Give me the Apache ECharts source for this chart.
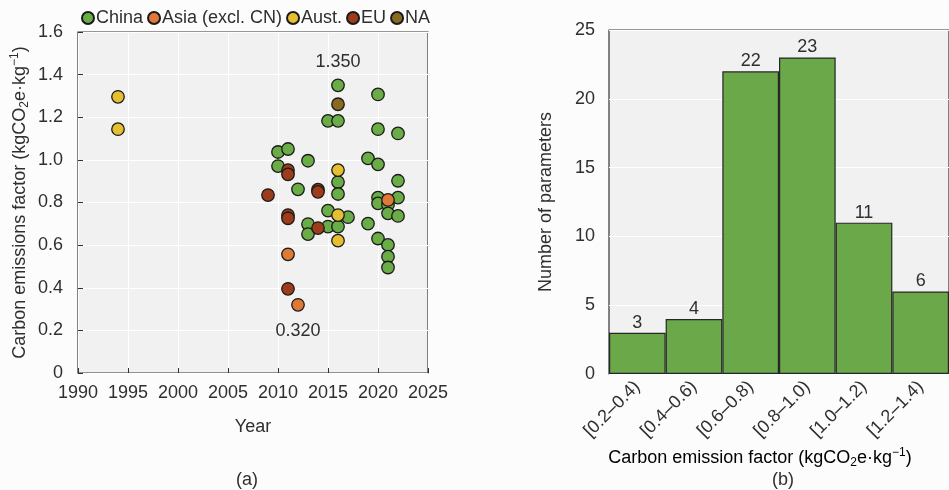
<!DOCTYPE html>
<html>
<head>
<meta charset="utf-8">
<script src="https://cdn.jsdelivr.net/npm/echarts@6/dist/echarts.min.js"></script>
<style>
  html, body { margin: 0; padding: 0; background: #fcfcfc; }
  #chart { width: 949px; height: 490px; }
</style>
</head>
<body>
<div id="chart"></div>
<script>
// (a) Emission factors by publication year and region: [year, kgCO2e/kg]
const chinaPts = [
  [2010, 1.037], [2010, 0.971], [2011, 1.051], [2012, 0.862],
  [2013, 0.996], [2013, 0.699], [2013, 0.652],
  [2015, 1.183], [2015, 0.762], [2015, 0.687],
  [2016, 1.350], [2016, 1.183], [2016, 0.896], [2016, 0.840], [2016, 0.687],
  [2017, 0.731], [2019, 1.007], [2019, 0.701],
  [2020, 1.307], [2020, 1.144], [2020, 0.979], [2020, 0.823], [2020, 0.796], [2020, 0.631],
  [2021, 0.790], [2021, 0.749], [2021, 0.601], [2021, 0.546], [2021, 0.495],
  [2022, 1.124], [2022, 0.902], [2022, 0.823], [2022, 0.737]
];
const asiaPts = [[2011, 0.557], [2012, 0.320], [2021, 0.812]];
const austPts = [[1994, 1.296], [1994, 1.144], [2016, 0.952], [2016, 0.741], [2016, 0.621]];
const euPts = [
  [2009, 0.835], [2011, 0.952], [2011, 0.932], [2011, 0.741], [2011, 0.726], [2011, 0.395],
  [2014, 0.860], [2014, 0.850], [2014, 0.680]
];
const naPts = [[2016, 1.261]];

// (b) Histogram of emission factors
const binLabels = ['[0.2–0.4)', '[0.4–0.6)', '[0.6–0.8)', '[0.8–1.0)', '[1.0–1.2)', '[1.2–1.4)'];
const binCounts = [3, 4, 22, 23, 11, 6];

const FONT = '"Liberation Sans", Arial, sans-serif';
const TXT = '#2f2f2f';
const colors = {
  china: '#6aad46', asia: '#e07836', aust: '#e6be32', eu: '#9c3c1a', na: '#8a6a20'
};

const unitRich = {
  t: { fontSize: 18, color: TXT, fontFamily: FONT, lineHeight: 22 },
  sub: { fontSize: 12, color: TXT, fontFamily: FONT, lineHeight: 10, verticalAlign: 'bottom' },
  sup: { fontSize: 12, color: TXT, fontFamily: FONT, lineHeight: 10, verticalAlign: 'top' }
};

// the extreme values carry a value label
const extremes = { '2016|1.35': 'top', '2012|0.32': 'bottom' };

function scatterSeries(name, pts, color) {
  return {
    name: name,
    type: 'scatter',
    xAxisIndex: 0, yAxisIndex: 0,
    symbolSize: 12.5,
    itemStyle: { color: color, borderColor: '#1a1a1a', borderWidth: 1.3, opacity: 1 },
    data: pts.map(p => {
      const key = p[0] + '|' + (+p[1].toFixed(2));
      const pos = extremes[key];
      if (pos) {
        return {
          value: p,
          label: {
            show: true, position: pos, distance: pos === 'top' ? 7 : 10,
            formatter: d => d.value[1].toFixed(3),
            fontSize: 18, color: TXT, fontFamily: FONT
          }
        };
      }
      return p;
    })
  };
}

const chart = echarts.init(document.getElementById('chart'), null, { renderer: 'canvas' });

const innerTick = { show: true, inside: true, length: 5, lineStyle: { color: '#333', width: 1 } };

chart.setOption({
  backgroundColor: '#fcfcfc',
  animation: false,
  textStyle: { fontFamily: FONT },
  legend: {
    left: 76, top: 4,
    icon: 'circle', itemWidth: 12, itemHeight: 12, itemGap: 4,
    textStyle: { fontSize: 18, color: TXT, fontFamily: FONT, padding: [0, 0, 0, -3] },
    data: ['China', 'Asia (excl. CN)', 'Aust.', 'EU', 'NA']
  },
  grid: [
    { left: 78, top: 32, width: 350, height: 341, show: true, backgroundColor: '#f1f1f1',
      borderColor: '#333', borderWidth: 1.2 },
    { left: 609, top: 30, width: 348, height: 344, show: true, backgroundColor: '#f1f1f1',
      borderColor: '#333', borderWidth: 1.2 }
  ],
  xAxis: [
    {
      gridIndex: 0, type: 'value', min: 1990, max: 2025, interval: 5,
      axisLine: { show: false }, axisTick: innerTick,
      axisLabel: { fontSize: 18, color: TXT, margin: 11, fontFamily: FONT, formatter: v => String(v) },
      splitLine: { show: true, lineStyle: { color: '#ffffff', width: 1 } },
      name: 'Year', nameLocation: 'middle', nameGap: 45,
      nameTextStyle: { fontSize: 18, color: TXT, fontFamily: FONT }
    },
    {
      gridIndex: 1, type: 'category', data: binLabels,
      axisLine: { show: false }, axisTick: { show: false },
      axisLabel: { fontSize: 18, color: TXT, rotate: 45, margin: 10, fontFamily: FONT, interval: 0 },
      splitLine: { show: false }
    }
  ],
  yAxis: [
    {
      gridIndex: 0, type: 'value', min: 0, max: 1.6, interval: 0.2,
      axisLine: { show: false }, axisTick: innerTick,
      axisLabel: {
        fontSize: 18, color: TXT, margin: 15, fontFamily: FONT,
        formatter: v => (v === 0 ? '0' : v.toFixed(1))
      },
      splitLine: { show: true, lineStyle: { color: '#ffffff', width: 1 } },
      name: '{t|Carbon emissions factor (kgCO}{sub|2}{t|e·kg}{sup|−1}{t|)}',
      nameLocation: 'middle', nameGap: 47,
      nameTextStyle: { rich: unitRich }
    },
    {
      gridIndex: 1, type: 'value', min: 0, max: 25, interval: 5,
      axisLine: { show: false }, axisTick: { show: false },
      axisLabel: { fontSize: 18, color: TXT, margin: 14, fontFamily: FONT },
      splitLine: { show: true, lineStyle: { color: '#ffffff', width: 1 } },
      name: 'Number of parameters', nameLocation: 'middle', nameGap: 54,
      nameTextStyle: { fontSize: 18, color: TXT, fontFamily: FONT }
    }
  ],
  graphic: [
    {
      type: 'text', x: 760, y: 458,
      style: {
        text: '{t|Carbon emission factor (kgCO}{sub|2}{t|e·kg}{sup|−1}{t|)}',
        rich: unitRich, align: 'center', verticalAlign: 'middle'
      }
    },
    {
      type: 'text', x: 247, y: 480,
      style: { text: '(a)', font: '18px ' + FONT, fill: TXT, align: 'center', verticalAlign: 'middle' }
    },
    {
      type: 'text', x: 783, y: 480,
      style: { text: '(b)', font: '18px ' + FONT, fill: TXT, align: 'center', verticalAlign: 'middle' }
    }
  ],
  series: [
    scatterSeries('China', chinaPts, colors.china),
    scatterSeries('Asia (excl. CN)', asiaPts, colors.asia),
    scatterSeries('Aust.', austPts, colors.aust),
    scatterSeries('EU', euPts, colors.eu),
    scatterSeries('NA', naPts, colors.na),
    {
      name: 'Count', type: 'bar', xAxisIndex: 1, yAxisIndex: 1,
      data: binCounts,
      barCategoryGap: 0,
      itemStyle: { color: '#6aa84a', borderColor: '#262626', borderWidth: 1.2 },
      label: { show: true, position: 'top', distance: 1, fontSize: 18, color: TXT, fontFamily: FONT }
    }
  ]
});
</script>
</body>
</html>
